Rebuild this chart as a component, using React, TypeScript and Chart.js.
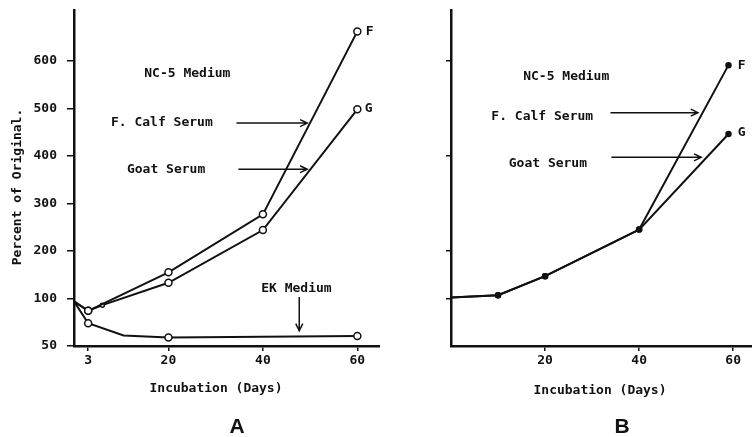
import React, { useEffect, useRef } from "react";
import { Chart, registerables, LinearScale } from "chart.js";

// ---------- data ----------
const CALF_A_DAYS = [0, 3, 20, 40, 60];
const CALF_A = [97, 87, 155, 277, 662];
const GOAT_A_DAYS = [0, 3, 6, 20, 40, 60];
const GOAT_A = [97, 87, 93, 133, 244, 498];
const EK_DAYS = [0, 3, 10.5, 20, 60];
const EK_A = [97, 74, 61, 59, 60.5];

const B_DAYS = [0, 10, 20, 40, 59];
const CALF_B = [102, 107, 147, 245, 591];
const GOAT_B = [102, 107, 147, 245, 446];

const LEFT_X_TICKS = [3, 20, 40, 60];
const RIGHT_X_TICKS = [20, 40, 60];
const LEFT_Y_TICKS = [50, 100, 200, 300, 400, 500, 600];
const RIGHT_Y_TICKS = [100, 200, 400, 600];

const Y_TITLE = "Percent of Original.";
const X_TITLE = "Incubation (Days)";

// annotations (data coordinates)
const TEXTS_A = [
  { text: "NC-5 Medium", x: 24, y: 574 },
  { text: "F. Calf Serum", x: 18.6, y: 471 },
  { text: "Goat Serum", x: 19.5, y: 372 },
  { text: "EK Medium", x: 47.1, y: 120 },
  { text: "F", x: 62.6, y: 662 },
  { text: "G", x: 62.4, y: 500 },
];
const ARROWS_A = [
  { x1: 34.4, y1: 469, x2: 49.4, y2: 469 },
  { x1: 34.8, y1: 372, x2: 49.4, y2: 372 },
  { x1: 47.7, y1: 103, x2: 47.7, y2: 66 },
];
const TEXTS_B = [
  { text: "NC-5 Medium", x: 24.5, y: 566 },
  { text: "F. Calf Serum", x: 19.4, y: 482 },
  { text: "Goat Serum", x: 20.6, y: 383 },
  { text: "F", x: 61.8, y: 591 },
  { text: "G", x: 61.8, y: 448 },
];
const ARROWS_B = [
  { x1: 33.9, y1: 491, x2: 52.5, y2: 491 },
  { x1: 34.1, y1: 397, x2: 53.2, y2: 397 },
];

// ---------- broken y scale (50..100 stretched like 100..200) ----------
const toT = (v: number) => (v >= 100 ? v / 100 : (v - 50) / 50);
const fromT = (t: number) => (t >= 1 ? t * 100 : 50 + t * 50);

class BrokenScale extends LinearScale {
  static id = "broken";
  static defaults = LinearScale.defaults;
  getPixelForValue(value: number) {
    const t0 = toT(this.min);
    const t1 = toT(this.max);
    return this.getPixelForDecimal((toT(value) - t0) / (t1 - t0));
  }
  getValueForPixel(pixel: number) {
    const t0 = toT(this.min);
    const t1 = toT(this.max);
    return fromT(t0 + this.getDecimalForPixel(pixel) * (t1 - t0));
  }
}

Chart.register(...registerables, BrokenScale as any);

const FONT_FAMILY = "'DejaVu Sans Mono', monospace";
const INK = "#111";

const zip = (xs: number[], ys: number[]) => xs.map((x, i) => ({ x, y: ys[i] }));

function annotPlugin(texts: any[], arrows: any[], title: { x: number; y: number }, letter: { t: string; x: number; y: number }, yTitle: boolean) {
  return {
    id: "annot",
    afterDraw(chart: any) {
      const { ctx } = chart;
      const xs = chart.scales.x;
      const ys = chart.scales.y;
      ctx.save();
      ctx.fillStyle = INK;
      ctx.strokeStyle = INK;
      ctx.font = `bold 13px ${FONT_FAMILY}`;
      ctx.textBaseline = "middle";
      ctx.textAlign = "center";
      for (const t of texts) {
        ctx.fillText(t.text, xs.getPixelForValue(t.x), ys.getPixelForValue(t.y));
      }
      ctx.lineWidth = 1.5;
      for (const a of arrows) {
        const x1 = xs.getPixelForValue(a.x1), y1 = ys.getPixelForValue(a.y1);
        const x2 = xs.getPixelForValue(a.x2), y2 = ys.getPixelForValue(a.y2);
        ctx.beginPath();
        ctx.moveTo(x1, y1);
        ctx.lineTo(x2, y2);
        const ang = Math.atan2(y2 - y1, x2 - x1);
        const L = 8;
        ctx.moveTo(x2 - L * Math.cos(ang - 0.45), y2 - L * Math.sin(ang - 0.45));
        ctx.lineTo(x2, y2);
        ctx.lineTo(x2 - L * Math.cos(ang + 0.45), y2 - L * Math.sin(ang + 0.45));
        ctx.stroke();
      }
      ctx.fillText(X_TITLE, title.x, title.y);
      if (yTitle) {
        ctx.save();
        ctx.translate(18, 187);
        ctx.rotate(-Math.PI / 2);
        ctx.fillText(Y_TITLE, 0, 0);
        ctx.restore();
      }
      ctx.font = `bold 21px 'Liberation Sans', Arial, sans-serif`;
      ctx.fillText(letter.t, letter.x, letter.y);
      ctx.restore();
    },
  };
}

function makeOptions(opts: {
  xMax: number; xTicks: number[]; yTicks: number[]; yWidth: number; showYLabels: boolean; yTickLen: number;
}) {
  return {
    responsive: false,
    animation: false as const,
    devicePixelRatio: 1,
    layout: { autoPadding: false, padding: { top: 10, left: 0, right: 0, bottom: 0 } },
    plugins: { legend: { display: false }, tooltip: { enabled: false } },
    elements: { line: { tension: 0 } },
    scales: {
      x: {
        type: "linear" as const,
        min: 0,
        max: opts.xMax,
        bounds: "data" as const,
        afterBuildTicks: (s: any) => { s.ticks = opts.xTicks.map((v) => ({ value: v })); },
        afterFit: (s: any) => { s.height = 91; s.paddingLeft = 0; s.paddingRight = 0; },
        grid: { display: true, drawOnChartArea: false, drawTicks: true, tickLength: 5, color: INK, lineWidth: 1.5 },
        border: { display: true, color: INK, width: 2.5 },
        ticks: { color: INK, font: { family: FONT_FAMILY, size: 13, weight: "bold" }, padding: 2, autoSkip: false, maxRotation: 0, callback: (v: any) => String(v) },
      },
      y: {
        type: "broken" as any,
        min: 50,
        max: 707,
        bounds: "data" as const,
        afterBuildTicks: (s: any) => { s.ticks = opts.yTicks.map((v) => ({ value: v })); },
        afterFit: (s: any) => { s.width = opts.yWidth; s.paddingTop = 0; s.paddingBottom = 0; },
        grid: { display: true, drawOnChartArea: false, drawTicks: true, tickLength: opts.yTickLen, color: INK, lineWidth: 1.5 },
        border: { display: true, color: INK, width: 2.5 },
        ticks: { display: opts.showYLabels, color: INK, font: { family: FONT_FAMILY, size: 13, weight: "bold" }, padding: 10, autoSkip: false, callback: (v: any) => String(v) },
      },
    },
  };
}

function lineDs(data: any[], radius: (x: number) => number, fill: string) {
  return {
    data,
    showLine: true,
    borderColor: INK,
    borderWidth: 2,
    pointRadius: (c: any) => radius(c.raw.x),
    pointBorderWidth: 1.5,
    pointBorderColor: INK,
    pointBackgroundColor: fill,
    tension: 0,
  };
}

export default function App() {
  const refA = useRef<HTMLCanvasElement>(null);
  const refB = useRef<HTMLCanvasElement>(null);

  useEffect(() => {
    const markA = (x: number) => (x === 0 || x === 10.5 ? 0 : x === 6 ? 2 : 3.5);
    const chartA = new Chart(refA.current!, {
      type: "scatter",
      data: {
        datasets: [
          lineDs(zip(CALF_A_DAYS, CALF_A), markA, "#fff"),
          lineDs(zip(GOAT_A_DAYS, GOAT_A), markA, "#fff"),
          lineDs(zip(EK_DAYS, EK_A), markA, "#fff"),
        ] as any,
      },
      options: makeOptions({ xMax: 64.8, xTicks: LEFT_X_TICKS, yTicks: LEFT_Y_TICKS, yWidth: 74, showYLabels: true, yTickLen: 7 }) as any,
      plugins: [annotPlugin(TEXTS_A, ARROWS_A, { x: 216, y: 389 }, { t: "A", x: 237, y: 427 }, true)],
    });
    const markB = (x: number) => (x === 0 ? 0 : 2.5);
    const chartB = new Chart(refB.current!, {
      type: "scatter",
      data: {
        datasets: [
          lineDs(zip(B_DAYS, CALF_B), markB, INK),
          lineDs(zip(B_DAYS, GOAT_B), markB, INK),
        ] as any,
      },
      options: makeOptions({ xMax: 64, xTicks: RIGHT_X_TICKS, yTicks: RIGHT_Y_TICKS, yWidth: 71, showYLabels: false, yTickLen: 5 }) as any,
      plugins: [annotPlugin(TEXTS_B, ARROWS_B, { x: 220, y: 391 }, { t: "B", x: 242, y: 427 }, false)],
    });
    return () => {
      chartA.destroy();
      chartB.destroy();
    };
  }, []);

  return (
    <div style={{ position: "fixed", left: 0, top: 0, width: 752, height: 437, background: "#fff" }}>
      <canvas ref={refA} width={380} height={437} style={{ position: "absolute", left: 0, top: 0 }} />
      <canvas ref={refB} width={372} height={437} style={{ position: "absolute", left: 380, top: 0 }} />
    </div>
  );
}
